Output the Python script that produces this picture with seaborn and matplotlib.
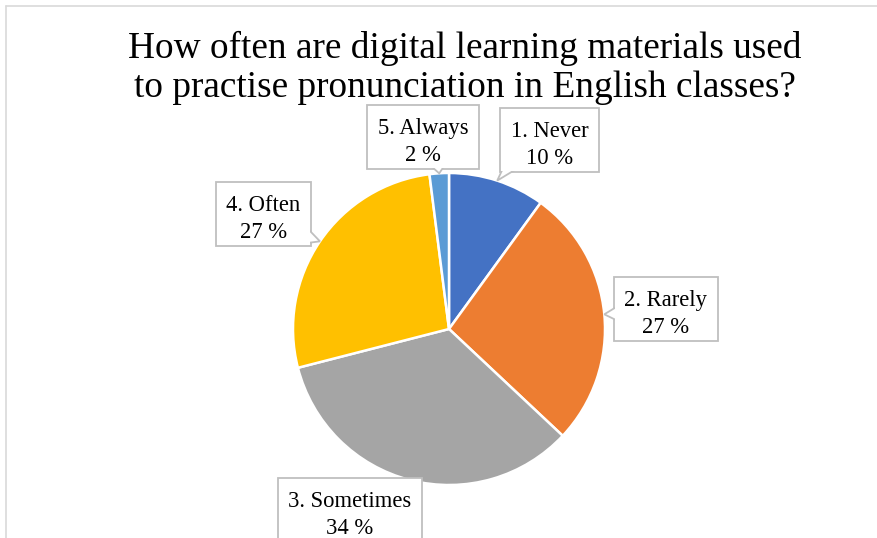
import matplotlib
matplotlib.use("Agg")
import matplotlib.pyplot as plt
from matplotlib.lines import Line2D
from matplotlib.patches import Polygon, Rectangle
import numpy as np
import seaborn as sns

# Survey answers and their shares (%)
categories = ["1. Never", "2. Rarely", "3. Sometimes", "4. Often", "5. Always"]
shares = [10, 27, 34, 27, 2]
colors = ["#4472C4", "#ED7D31", "#A5A5A5", "#FFC000", "#5B9BD5"]
title = ("How often are digital learning materials used\n"
         "to practise pronunciation in English classes?")

# Label text centres, in units of the pie radius
label_pos = [(0.644, 1.18), (1.391, 0.096), (-0.635, -1.19), (-1.189, 0.705), (-0.167, 1.198)]

sns.set_theme(style="white")
plt.rcParams["font.family"] = ["Liberation Serif", "DejaVu Serif"]

W, H = 877, 538
fig = plt.figure(figsize=(W / 100, H / 100), dpi=100)

# Chart frame (light grey border)
fig.add_artist(Line2D([6 / W, 1], [1 - 6 / H, 1 - 6 / H], color="#D9D9D9", lw=1.2))
fig.add_artist(Line2D([6 / W, 6 / W], [0, 1 - 6 / H], color="#D9D9D9", lw=1.2))

cx, cy, r = 449, 329, 156
ax = fig.add_axes([(cx - r) / W, (H - cy - r) / H, 2 * r / W, 2 * r / H])
wedges, _ = ax.pie(shares, colors=colors, startangle=90, counterclock=False,
                   radius=1.0, wedgeprops=dict(edgecolor="white", linewidth=1.8))
ax.set_xlim(-1, 1)
ax.set_ylim(-1, 1)
ax.set_aspect("equal")
ax.axis("off")

edge = "#BFBFBF"
fs = 16.3
lsp = 1.38

labels, tips = [], []
for w, cat, val, (tx, ty) in zip(wedges, categories, shares, label_pos):
    theta = np.deg2rad((w.theta1 + w.theta2) / 2)
    tips.append((np.cos(theta), np.sin(theta)))
    labels.append(ax.text(tx, ty, f"{cat}\n{val} %", ha="center", va="center",
                          fontsize=fs, color="#000000", linespacing=lsp,
                          zorder=6, clip_on=False))

# Callout boxes with a short wedge pointing at each slice (built in pixels)
fig.canvas.draw()
renderer = fig.canvas.get_renderer()
to_data = ax.transData.inverted()
pad_x, box_h, lift = 10.5, 64.0, 5.0
half_w, inset = 7.5, 4.0


def rect_in_data(x0, y0, x1, y1, **kw):
    (dx0, dy0), (dx1, dy1) = to_data.transform([(x0, y0), (x1, y1)])
    return Rectangle((dx0, dy0), dx1 - dx0, dy1 - dy0, clip_on=False, **kw)


for t, tip in zip(labels, tips):
    ext = t.get_window_extent(renderer)
    bx, by = (ext.x0 + ext.x1) / 2, (ext.y0 + ext.y1) / 2 + lift
    hx, hy = ext.width / 2 + pad_x, box_h / 2
    x0, x1, y0, y1 = bx - hx, bx + hx, by - hy, by + hy
    ax.add_patch(rect_in_data(x0, y0, x1, y1, fc="white", ec=edge, lw=1.3, zorder=3))
    ax.add_patch(rect_in_data(x0 + 1.2, y0 + 1.2, x1 - 1.2, y1 - 1.2,
                              fc="white", ec="none", lw=0, zorder=5))

    tdx, tdy = ax.transData.transform(tip)
    dx, dy = tdx - bx, tdy - by
    if abs(dx) <= hx and abs(dy) <= hy:
        continue  # slice point lies under the box
    sx_ = hx / abs(dx) if dx else np.inf
    sy_ = hy / abs(dy) if dy else np.inf
    s = min(sx_, sy_)
    ex, ey = bx + dx * s, by + dy * s
    if sx_ < sy_:
        sgn = np.sign(dx)
        yc = np.clip(ey, y0 + half_w + 3, y1 - half_w - 3)
        base = [(ex - sgn * inset, yc - half_w), (ex - sgn * inset, yc + half_w)]
    else:
        sgn = np.sign(dy)
        xc = np.clip(ex, x0 + half_w + 3, x1 - half_w - 3)
        base = [(xc - half_w, ey - sgn * inset), (xc + half_w, ey - sgn * inset)]
    pts = to_data.transform([base[0], (tdx, tdy), base[1]])
    ax.add_patch(Polygon(pts, closed=True, fc="white", ec=edge, lw=1.3, zorder=4,
                         clip_on=False, joinstyle="miter"))

fig.text(465 / W, 1 - 31 / H, title, ha="center", va="top", fontsize=26.8,
         color="#000000", linespacing=1.17)

fig.savefig("out.png", dpi=100, facecolor="white")
